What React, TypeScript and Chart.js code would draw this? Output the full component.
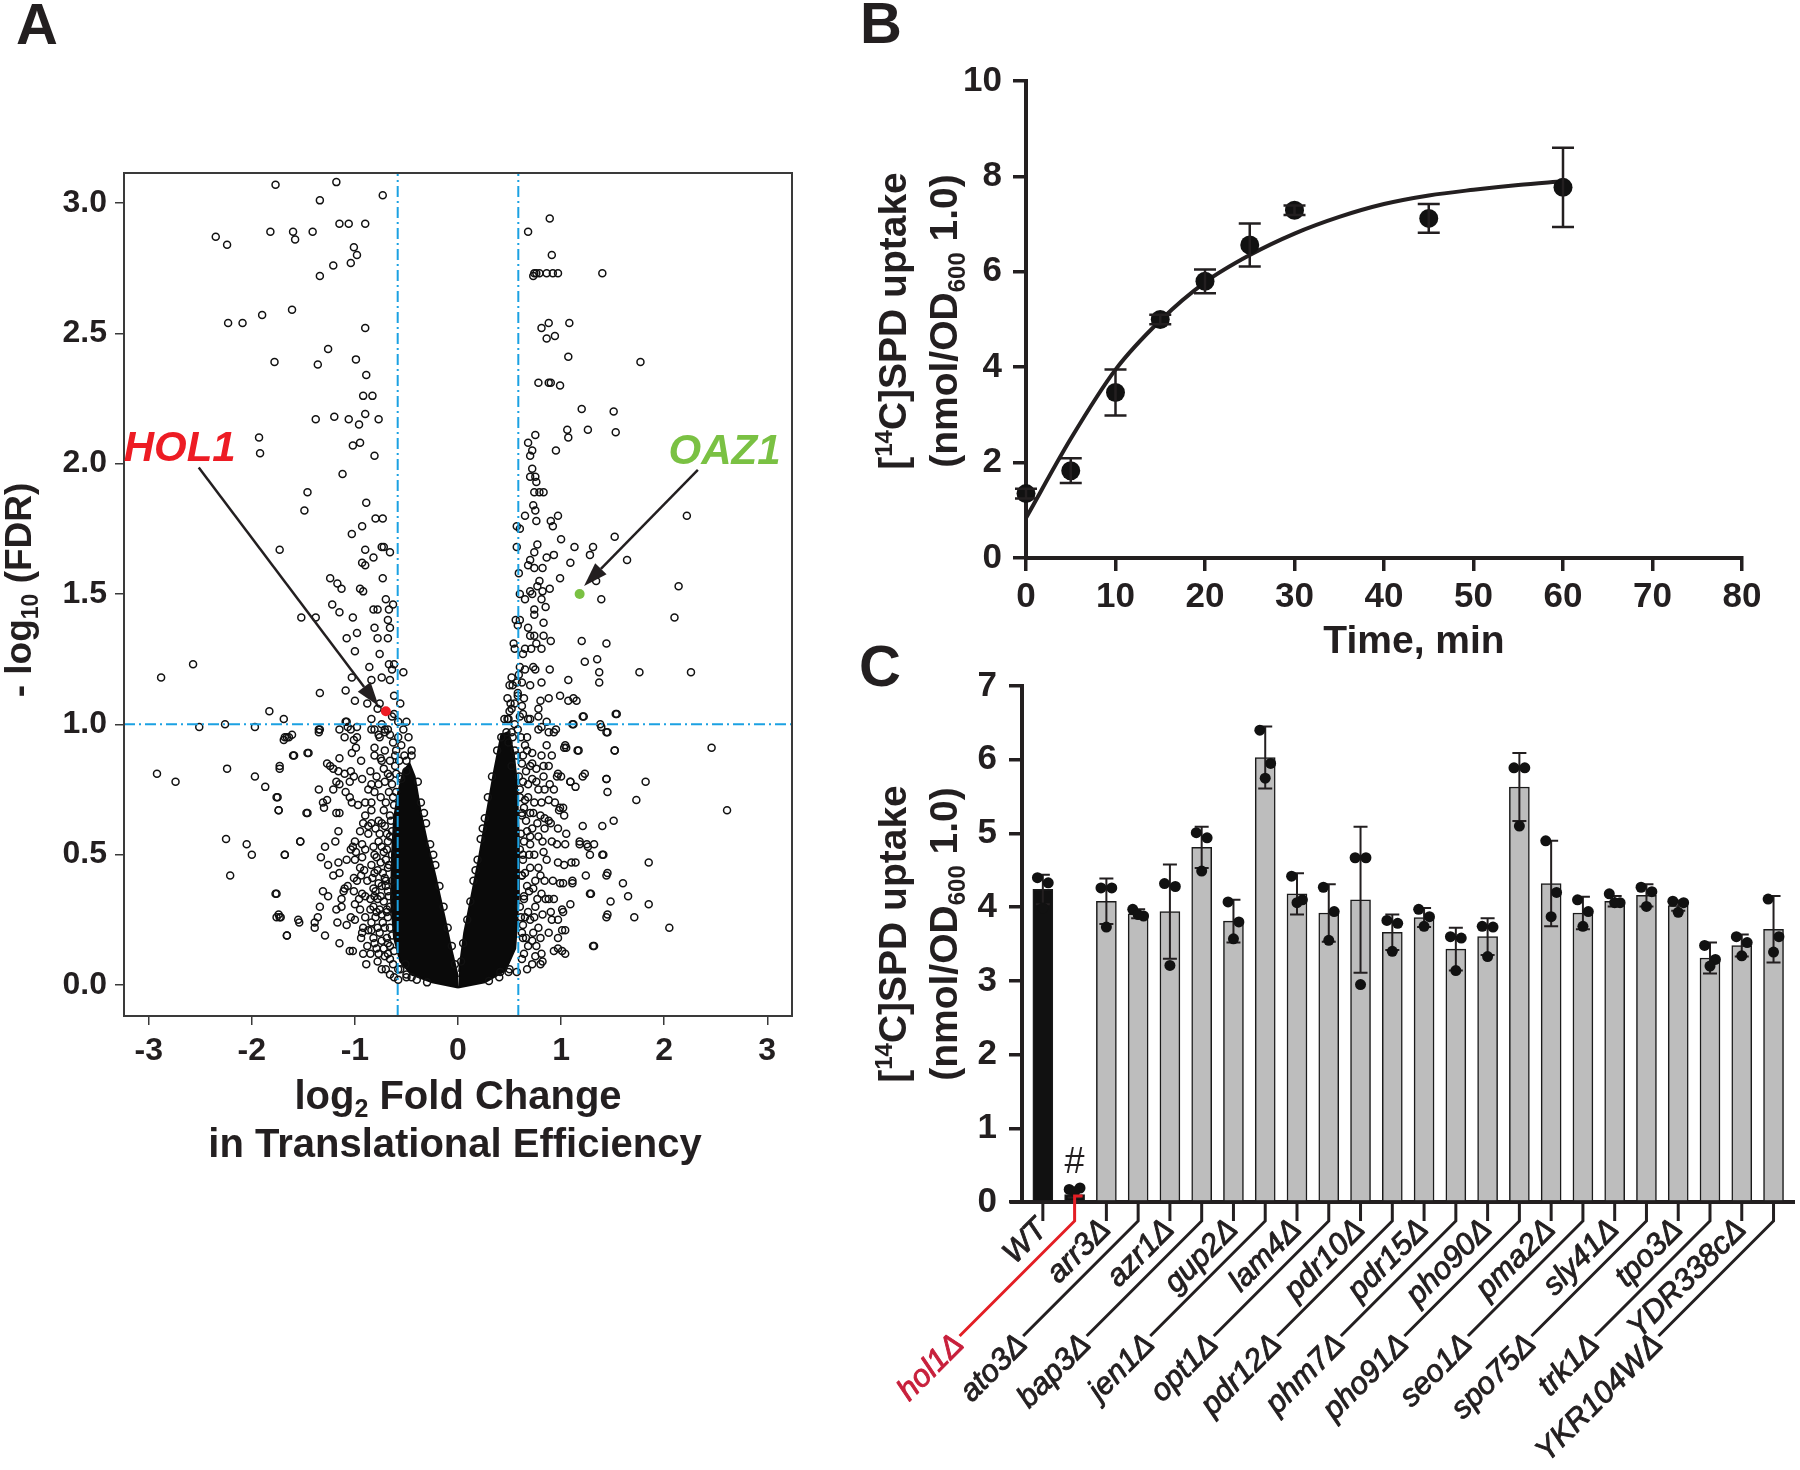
import React, { useEffect, useRef } from 'react';
import { Chart, registerables } from 'chart.js';

Chart.register(...registerables);

const FONT = "'Liberation Sans', Arial, Helvetica, sans-serif";
const INK = '#231f20';

// ---------------- Panel A : volcano plot ----------------
const volcanoXTicks = [-3, -2, -1, 0, 1, 2, 3];
const volcanoYTicks = [0, 0.5, 1, 1.5, 2, 2.5, 3];
const volcanoXRange = [-3.24, 3.24];
const volcanoYRange = [-0.119, 3.115];
const foldThreshold = [-0.585, 0.585];
const fdrThreshold = 1.0;
const hol1Point = [-0.70, 1.05];
const oaz1Point = [1.18, 1.50];
const hol1Label = [-2.70, 2.012];
const oaz1Label = [2.585, 1.998];
const hol1Arrow = [[-2.515, 1.985], [-0.77, 1.07]];
const oaz1Arrow = [[2.327, 1.976], [1.223, 1.531]];

const volcanoPoints: number[][] = [
  [-1.77,3.07],[-1.18,3.08],[-0.73,3.03],[-1.34,3.01],[-2.35,2.87],[-2.24,2.84],[-1.82,2.89],[-1.60,2.89],[-1.58,2.86],[-1.41,2.89],
  [-1.15,2.92],[-1.06,2.92],[-0.90,2.92],[-1.01,2.83],[-0.98,2.80],[-1.04,2.77],[-1.21,2.76],[-1.34,2.72],[-2.23,2.54],[-2.09,2.54],
  [-1.90,2.57],[-1.61,2.59],[-0.90,2.52],[-1.26,2.44],[-1.36,2.38],[-1.78,2.39],[-0.99,2.40],[-0.89,2.34],[-0.92,2.26],[-0.83,2.26],
  [-0.90,2.19],[-1.38,2.17],[-1.20,2.18],[-1.06,2.17],[-0.96,2.15],[-0.77,2.17],[-1.93,2.10],[-1.92,2.04],[-1.02,2.07],[-0.95,2.08],
  [-0.81,2.03],[-1.12,1.96],[-1.46,1.89],[-1.49,1.82],[-0.89,1.85],[-0.80,1.79],[-0.73,1.79],[-0.93,1.76],[-1.03,1.73],[-1.73,1.67],
  [-0.90,1.67],[-0.74,1.68],[-0.72,1.68],[-0.66,1.66],[-0.82,1.64],[-0.93,1.62],[-0.90,1.61],[-1.24,1.56],[-1.17,1.54],[-1.13,1.52],
  [-0.95,1.52],[-0.92,1.51],[-0.73,1.56],[-0.70,1.48],[-1.22,1.46],[-1.15,1.43],[-0.82,1.44],[-0.78,1.44],[-0.67,1.44],[-0.63,1.46],
  [-1.52,1.41],[-1.38,1.41],[-1.02,1.41],[-0.98,1.35],[-0.81,1.37],[-0.68,1.40],[-0.66,1.37],[-1.08,1.33],[-0.78,1.33],[-0.68,1.33],
  [-1.00,1.28],[-0.76,1.27],[-0.67,1.23],[-0.62,1.23],[-0.64,1.21],[-0.53,1.20],[-0.86,1.22],[-0.74,1.18],[-0.84,1.17],[-1.03,1.18],
  [-0.66,1.17],[-2.57,1.23],[-2.88,1.18],[-1.34,1.12],[-1.09,1.13],[-1.00,1.09],[-0.88,1.08],[-0.76,1.08],[-0.62,1.11],[-0.56,1.08],
  [-0.78,1.06],[-0.64,1.03],[-0.62,1.04],[-0.58,1.01],[-0.50,1.01],[-1.83,1.05],[-1.69,1.02],[-2.26,1.00],[-2.51,0.99],[-1.97,0.99],
  [-1.35,0.98],[-1.35,0.97],[-1.08,1.01],[-1.07,0.99],[-0.98,0.99],[-0.84,0.98],[-0.77,0.96],[-0.71,0.98],[-0.66,0.96],[-1.68,0.95],
  [-1.64,0.95],[-1.61,0.96],[-1.46,0.89],[-1.60,0.88],[-2.24,0.83],[-2.92,0.81],[-2.74,0.78],[-1.73,0.83],[-1.97,0.80],[-1.87,0.76],
  [-1.76,0.72],[-1.74,0.67],[-2.25,0.56],[-2.05,0.54],[-2.00,0.50],[-2.21,0.42],[-1.68,0.50],[-1.53,0.55],[-1.77,0.35],[-1.76,0.26],
  [-1.73,0.26],[-1.66,0.19],[-1.54,0.24],[-1.47,0.66],
  [-1.09,1.01],[-0.84,1.02],[-1.15,0.98],[-1.04,0.98],[-0.81,0.98],[-0.74,1.00],[-0.68,0.98],[-1.34,0.98],[-1.69,0.94],[-1.66,0.95],
  [-1.10,0.95],[-0.98,0.95],[-1.01,0.94],[-0.76,0.95],[-0.71,0.97],[-0.63,0.93],[-1.45,0.89],[-1.59,0.88],[-1.73,0.84],[-1.15,0.87],
  [-1.03,0.89],[-0.99,0.91],[-0.94,0.86],[-0.75,0.87],[-0.74,0.86],[-1.27,0.85],[-1.24,0.84],[-1.21,0.83],[-1.16,0.82],[-1.10,0.81],
  [-1.04,0.82],[-1.01,0.80],[-1.18,0.78],[-1.15,0.77],[-1.05,0.78],[-0.93,0.79],[-0.79,0.80],[-0.68,0.81],[-0.77,0.77],[-0.71,0.78],
  [-0.64,0.77],[-1.35,0.75],[-1.21,0.75],[-1.09,0.74],[-1.05,0.72],[-0.87,0.75],[-0.81,0.74],[-0.63,0.72],[-1.75,0.72],[-1.27,0.71],
  [-1.31,0.70],[-1.30,0.68],[-1.03,0.70],[-0.97,0.69],[-0.90,0.70],[-0.84,0.70],[-1.74,0.67],[-1.46,0.66],[-1.18,0.66],[-1.15,0.66],
  [-0.90,0.65],[-0.84,0.67],[-0.77,0.63],[-0.92,0.62],[-0.95,0.59],[-0.87,0.58],[-1.16,0.59],[-1.53,0.55],[-1.19,0.55],[-1.00,0.55],
  [-1.02,0.53],[-1.04,0.52],[-0.93,0.54],[-1.29,0.53],[-1.68,0.50],[-1.33,0.49],[-1.16,0.47],[-1.08,0.48],[-1.00,0.48],[-0.93,0.49],
  [-0.99,0.51],[-0.81,0.50],[-1.26,0.46],[-1.21,0.42],[-1.15,0.43],[-1.01,0.41],[-0.94,0.42],[-0.91,0.44],[-0.81,0.43],[-1.10,0.37],
  [-1.07,0.38],[-1.31,0.36],[-1.76,0.35],[-1.26,0.34],[-1.11,0.36],[-1.01,0.36],[-0.93,0.35],[-0.90,0.34],[-0.82,0.37],[-0.81,0.34],
  [-1.13,0.33],[-1.34,0.30],[-1.18,0.29],[-1.13,0.30],[-1.00,0.31],[-0.95,0.29],[-0.85,0.29],[-0.79,0.28],[-1.74,0.27],[-1.72,0.26],
  [-1.55,0.25],[-1.36,0.26],[-1.39,0.24],[-1.39,0.22],[-1.17,0.24],[-1.08,0.23],[-1.04,0.26],[-1.00,0.25],[-0.92,0.22],[-0.84,0.24],
  [-0.93,0.20],[-0.87,0.21],[-1.66,0.19],[-1.29,0.19],[-1.15,0.16],[-1.05,0.13],[-1.02,0.13],[-0.92,0.12],[-0.81,0.16],[-0.77,0.12],
  [-0.71,0.11],[-0.78,0.09],[-0.74,0.06],[-0.68,0.12],[-0.63,0.08],[-0.56,0.06],[-0.50,0.04],[-0.45,0.03],[-0.51,0.08],
  [-0.72,0.67],[-0.66,0.65],[-0.71,0.61],[-0.64,0.59],[-0.76,0.58],[-0.68,0.55],[-0.72,0.51],[-0.64,0.50],[-0.75,0.47],[-0.68,0.45],
  [-0.71,0.41],[-0.64,0.40],[-0.74,0.38],[-0.68,0.36],[-0.72,0.32],[-0.66,0.30],[-0.74,0.27],[-0.68,0.26],[-0.71,0.22],[-0.64,0.19],
  [-0.74,0.17],[-0.66,0.15],[-0.81,0.91],[-0.71,0.90],[-0.61,0.88],[-0.61,0.84],[-0.81,0.88],[-0.66,0.86],[-0.85,0.82],[-0.60,0.81],
  [-0.84,0.77],[-0.58,0.95],[-0.55,0.92],[-0.60,0.90],[-0.52,0.88],[-0.57,0.86],[-0.50,0.82],[-0.55,0.79],[-0.48,0.95],[-0.45,0.90],
  [-0.53,0.98],
  [-0.84,0.62],[-0.80,0.60],[-0.77,0.55],[-0.82,0.53],[-0.79,0.49],[-0.84,0.46],[-0.78,0.44],[-0.83,0.41],[-0.77,0.39],[-0.80,0.36],
  [-0.85,0.33],[-0.78,0.33],[-0.82,0.30],[-0.76,0.29],[-0.80,0.26],[-0.84,0.21],[-0.78,0.22],[-0.82,0.18],[-0.76,0.20],[-0.79,0.14],
  [-0.85,0.12],[-0.72,0.14],[-0.69,0.18],[-0.73,0.24],[-0.69,0.29],[-0.75,0.34],[-0.70,0.38],[-0.73,0.43],[-0.70,0.48],[-0.74,0.53],
  [-0.69,0.58],[-0.74,0.62],[-0.70,0.70],[-0.75,0.72],[-0.67,0.74],[-0.72,0.83],[-0.66,0.80],[-0.70,0.06],[-0.66,0.04],[-0.62,0.03],
  [-0.58,0.02],[-0.88,0.15],[-0.90,0.26],[-0.88,0.40],[-0.90,0.52],[-0.87,0.61],[-0.95,0.45],[-0.96,0.33],[-0.94,0.18],[-0.98,0.40],
  [-0.89,0.08],
  [0.68,2.89],[0.89,2.94],[0.91,2.80],[0.74,2.73],[0.76,2.73],[0.79,2.73],[0.86,2.73],[0.92,2.73],[0.97,2.73],[0.73,2.72],
  [1.40,2.73],[0.88,2.54],[0.81,2.52],[1.08,2.54],[0.86,2.48],[0.94,2.49],[1.07,2.41],[1.77,2.39],[0.78,2.31],[0.88,2.31],
  [0.90,2.31],[0.99,2.30],[1.20,2.21],[1.51,2.20],[1.06,2.13],[1.26,2.13],[1.53,2.12],[1.07,2.10],[0.75,2.11],[0.68,2.08],
  [0.95,2.05],[0.72,2.05],[0.70,2.03],[0.72,1.98],[0.70,1.95],[0.75,1.95],[0.76,1.93],[0.74,1.89],[0.79,1.89],[0.83,1.89],
  [0.73,1.84],[0.75,1.82],[0.65,1.80],[0.97,1.80],[0.90,1.78],[0.76,1.78],[0.57,1.76],[0.60,1.75],[2.22,1.80],[0.92,1.76],
  [1.00,1.71],[0.57,1.68],[0.77,1.69],[1.13,1.68],[1.31,1.68],[1.52,1.72],[0.74,1.66],[0.86,1.64],[0.93,1.65],[1.28,1.65],
  [1.64,1.63],[0.70,1.63],[0.68,1.61],[1.09,1.62],[0.74,1.60],[0.82,1.60],[0.59,1.58],[0.79,1.55],[0.99,1.56],[1.34,1.55],
  [0.77,1.53],[0.70,1.51],[0.60,1.50],[0.72,1.50],[0.82,1.51],[0.89,1.52],[2.14,1.53],[0.81,1.48],[0.65,1.48],[1.39,1.48],
  [0.74,1.44],[0.85,1.45],[0.74,1.42],[2.10,1.41],[0.56,1.40],[0.60,1.40],[0.83,1.39],[0.68,1.37],[0.70,1.34],[0.74,1.34],
  [0.83,1.34],[0.90,1.32],[1.20,1.32],[1.44,1.31],[0.76,1.31],[0.54,1.31],[0.71,1.29],[0.81,1.29],[0.63,1.27],[1.23,1.24],
  [1.35,1.25],[1.07,1.17],[1.37,1.20],[1.37,1.16],[1.76,1.20],[2.26,1.20],[0.89,1.21],[0.75,1.21],[0.65,1.21],[0.59,1.19],
  [0.52,1.18],[0.81,1.16],[0.70,1.15],[0.99,1.11],[1.12,1.10],[1.15,1.09],[1.07,1.09],[1.21,1.03],[1.11,1.00],[1.38,1.00],
  [1.53,1.04],[1.44,0.97],[2.46,0.91],[1.52,0.90],[1.03,0.91],[1.16,0.90],[1.21,0.80],[1.00,0.80],[1.44,0.79],[1.82,0.78],
  [1.45,0.74],[1.09,0.78],[1.73,0.71],[2.61,0.67],[0.99,0.68],[1.03,0.65],[1.21,0.61],[1.40,0.61],[1.51,0.63],[1.18,0.54],
  [1.25,0.54],[1.32,0.54],[1.40,0.50],[1.10,0.47],[1.85,0.47],[1.24,0.42],[1.44,0.42],[1.60,0.39],[0.99,0.39],[1.11,0.39],
  [1.29,0.35],[1.65,0.34],[1.48,0.32],[1.85,0.31],[1.09,0.31],[1.44,0.26],[1.71,0.26],[2.05,0.22],[1.31,0.15],[1.01,0.21],
  [0.97,0.14],
  [1.22,1.03],[1.54,1.04],[1.12,1.00],[1.39,0.99],[1.45,0.97],[0.78,1.06],[0.78,1.03],[0.86,1.01],[0.81,0.99],[0.93,0.97],
  [0.68,1.02],[1.04,0.92],[1.05,0.91],[1.17,0.90],[1.52,0.90],[0.91,0.88],[0.81,0.88],[0.72,0.89],[0.67,0.90],[1.23,0.81],
  [1.44,0.79],[1.09,0.78],[1.14,0.76],[0.97,0.81],[0.96,0.80],[0.89,0.77],[0.84,0.75],[0.93,0.75],[0.76,0.83],[0.83,0.84],
  [0.72,0.79],[0.78,0.75],[0.88,0.71],[1.02,0.68],[0.98,0.67],[0.81,0.70],[0.73,0.66],[0.84,0.64],[0.88,0.63],[0.97,0.60],
  [1.05,0.58],[0.91,0.55],[0.96,0.54],[1.04,0.54],[1.18,0.55],[1.26,0.53],[1.28,0.50],[1.41,0.50],[0.78,0.57],[0.70,0.54],
  [0.83,0.51],[0.97,0.47],[1.03,0.46],[1.14,0.47],[1.45,0.43],[1.11,0.40],[1.02,0.39],[0.84,0.40],[1.28,0.35],[0.88,0.33],
  [0.93,0.33],[1.01,0.29],[1.02,0.28],[0.81,0.35],[0.75,0.30],[1.45,0.27],[0.91,0.25],[0.97,0.25],[1.04,0.21],[0.88,0.20],
  [0.78,0.22],[0.72,0.17],[0.97,0.18],[0.93,0.13],[1.01,0.13],[1.04,0.12],[1.32,0.15],[0.81,0.12],[0.75,0.11],[0.80,0.08],
  [0.82,0.09],[0.67,0.06],[0.57,0.05],[0.49,0.05],[0.41,0.05],[0.68,0.15],[0.65,0.26],[0.67,0.38],[0.63,0.48],[0.67,0.59],
  [0.65,0.71],[0.68,0.77],[0.70,0.84],[0.67,0.95],[0.62,1.07],[0.52,1.06],[0.49,1.02],[0.47,0.97],[0.49,0.93],[0.55,0.90],
  [0.52,0.84],[0.55,1.29],[0.60,1.22],[0.53,1.15],[0.58,1.11],[0.51,1.08],[0.63,1.04],[0.55,1.00],[0.48,1.02],[0.58,1.38],
  [0.65,1.29],[0.73,1.22],[0.80,1.09],[0.88,1.10],[0.70,1.02],[0.78,0.98],[0.88,0.97],[0.95,0.98],[0.45,1.02],[0.50,1.05],
  [0.55,1.08],[0.42,0.95],[0.52,0.97],[0.48,1.10],[0.58,1.12],[0.50,1.15],[0.62,0.20],[0.60,0.30],[0.62,0.42],[0.60,0.52],
  [0.62,0.65],[0.60,0.75],[0.62,0.85],[0.70,0.25],[0.70,0.45],[0.72,0.60],[0.75,0.40],[0.73,0.20],
  [0.64,0.12],[0.66,0.18],[0.63,0.23],[0.68,0.28],[0.64,0.33],[0.69,0.36],[0.65,0.43],[0.69,0.50],[0.64,0.55],[0.70,0.57],
  [0.66,0.63],[0.70,0.66],[0.64,0.68],[0.68,0.72],[0.63,0.78],[0.66,0.82],[0.63,0.88],[0.65,0.92],[0.61,0.95],[0.72,0.08],
  [0.76,0.15],[0.74,0.26],[0.77,0.33],[0.73,0.37],[0.78,0.45],[0.74,0.50],[0.77,0.62],[0.74,0.70],[0.76,0.78],[0.72,0.85],
  [0.80,0.18],[0.82,0.27],[0.80,0.42],[0.82,0.55],[0.85,0.33],[0.86,0.48],[0.84,0.60],[0.80,0.65],[0.83,0.80],[0.86,0.92],
  [0.90,0.28],[0.92,0.40],[0.90,0.62],[0.94,0.70],[0.88,0.84],[0.58,0.98],[0.60,1.03],[0.64,1.10],[0.57,1.16],[0.62,1.16],
  // ragged rim of the saturated core
  [-0.66,0.10],[-0.68,0.16],[-0.66,0.22],[-0.69,0.28],[-0.67,0.34],[-0.70,0.40],[-0.67,0.46],[-0.69,0.52],[-0.66,0.57],[-0.65,0.63],
  [-0.62,0.69],[-0.60,0.74],[-0.56,0.80],[-0.50,0.86],[-0.45,0.88],[-0.58,0.06],[-0.50,0.03],[-0.40,0.02],[-0.30,0.01],[-0.62,0.13],
  [-0.39,0.78],[-0.36,0.70],[-0.31,0.62],[-0.27,0.54],[-0.22,0.46],[-0.18,0.38],[-0.14,0.30],[-0.10,0.22],[-0.06,0.15],[-0.03,0.08],
  [-0.33,0.66],[-0.24,0.50],[0.62,0.10],[0.63,0.18],[0.61,0.26],[0.64,0.34],[0.62,0.42],[0.63,0.50],[0.61,0.58],[0.62,0.66],
  [0.60,0.72],[0.59,0.80],[0.57,0.88],[0.53,0.95],[0.50,0.06],[0.40,0.03],[0.30,0.015],[0.38,0.90],[0.33,0.80],[0.29,0.72],
  [0.26,0.64],[0.22,0.56],[0.19,0.48],[0.15,0.40],[0.12,0.32],[0.09,0.25],[0.05,0.16],[0.03,0.09],[0.24,0.60],[0.17,0.44]
];

// outline of the saturated (fully overlapping) region near the origin
const denseCoreLeft: number[][] = [
  [0,-0.01],[-0.25,0.01],[-0.45,0.04],[-0.56,0.09],[-0.62,0.18],[-0.65,0.33],[-0.64,0.5],[-0.62,0.64],[-0.58,0.74],
  [-0.53,0.82],[-0.47,0.85],[-0.42,0.80],[-0.36,0.66],[-0.30,0.55],[-0.22,0.42],[-0.13,0.26],[-0.06,0.13],[0,0.03]
];
const denseCoreRight: number[][] = [
  [0,-0.01],[0.26,0.01],[0.46,0.055],[0.555,0.14],[0.59,0.34],[0.59,0.56],[0.57,0.78],[0.54,0.89],[0.49,0.97],
  [0.42,0.96],[0.35,0.82],[0.27,0.64],[0.20,0.48],[0.13,0.34],[0.06,0.20],[0.01,0.05]
];

// ---------------- Panel B : uptake time course ----------------
const timeMin = [0, 5, 10, 15, 20, 25, 30, 45, 60];
const uptakeMean = [1.35, 1.83, 3.47, 5.0, 5.80, 6.56, 7.29, 7.12, 7.77];
const uptakeSd = [0.1, 0.26, 0.48, 0.1, 0.25, 0.45, 0.1, 0.30, 0.83];
const fitTime = [0, 5, 10, 15, 20, 25, 30, 35, 40, 45, 50, 55, 60];
const fitUptake = [0.84, 2.5, 3.95, 4.98, 5.78, 6.35, 6.8, 7.15, 7.42, 7.6, 7.72, 7.82, 7.9];
const timeTicks = [0, 10, 20, 30, 40, 50, 60, 70, 80];
const uptakeTicks = [0, 2, 4, 6, 8, 10];

// ---------------- Panel C : deletion strains ----------------
const strains = ['WT', 'hol1Δ', 'arr3Δ', 'ato3Δ', 'azr1Δ', 'bap3Δ', 'gup2Δ', 'jen1Δ', 'lam4Δ', 'opt1Δ', 'pdr10Δ', 'pdr12Δ',
  'pdr15Δ', 'phm7Δ', 'pho90Δ', 'pho91Δ', 'pma2Δ', 'seo1Δ', 'sly41Δ', 'spo75Δ', 'tpo3Δ', 'trk1Δ', 'YDR338cΔ', 'YKR104WΔ'];
const strainMean = [4.24, 0.10, 4.08, 3.91, 3.94, 4.81, 3.81, 6.03, 4.18, 3.92, 4.10, 3.66, 3.86, 3.43, 3.60, 5.63, 4.32, 3.92,
  4.08, 4.16, 4.02, 3.31, 3.48, 3.70];
const strainSd = [0.20, 0.04, 0.31, 0.06, 0.64, 0.28, 0.29, 0.42, 0.28, 0.39, 0.99, 0.24, 0.13, 0.29, 0.25, 0.46, 0.58, 0.22,
  0.07, 0.15, 0.07, 0.21, 0.15, 0.45];
const strainReps = [
  [4.40, 4.33, 3.99], [0.17, 0.19, 0.14], [4.26, 4.26, 3.73], [3.97, 3.88, 3.90], [4.32, 4.28, 3.21], [5.01, 4.94, 4.49],
  [4.07, 3.80, 3.57], [6.40, 5.95, 5.75], [4.42, 4.10, 4.06], [4.27, 3.94, 3.55], [4.67, 4.67, 2.95], [3.82, 3.78, 3.40],
  [3.97, 3.87, 3.74], [3.60, 3.58, 3.14], [3.74, 3.73, 3.33], [5.89, 5.89, 5.10], [4.90, 4.20, 3.87], [4.10, 3.94, 3.74],
  [4.18, 4.06, 4.06], [4.27, 4.21, 4.01], [4.08, 4.06, 3.93], [3.48, 3.29, 3.20], [3.60, 3.52, 3.34], [4.11, 3.60, 3.39]
];
const repJitter = [-0.17, 0.17, 0];
const strainTicks = [0, 1, 2, 3, 4, 5, 6, 7];
const strainXRange = [-0.656, 23.66];
const hashMark = { index: 1, value: 0.39, text: '#' };

// ---------------- helpers ----------------
type Seg = { t: string; sub?: boolean; sup?: boolean };

function drawRich(ctx: any, segs: Seg[], x: number, y: number, size: number, align = 'center', color = INK, weight = 'bold') {
  const small = Math.round(size * 0.62);
  const fontFor = (s: Seg) => `normal ${weight} ${s.sub || s.sup ? small : size}px ${FONT}`;
  let total = 0;
  const widths = segs.map((s) => {
    ctx.font = fontFor(s);
    const w = ctx.measureText(s.t).width;
    total += w;
    return w;
  });
  let cx = align === 'center' ? x - total / 2 : align === 'right' ? x - total : x;
  ctx.textAlign = 'left';
  ctx.textBaseline = 'alphabetic';
  ctx.fillStyle = color;
  segs.forEach((s, i) => {
    ctx.font = fontFor(s);
    const dy = s.sub ? size * 0.2 : s.sup ? -size * 0.36 : 0;
    ctx.fillText(s.t, cx, y + dy);
    cx += widths[i];
  });
}

function drawVertical(ctx: any, segs: Seg[], baselineX: number, centerY: number, size: number) {
  ctx.save();
  ctx.translate(baselineX, centerY);
  ctx.rotate(-Math.PI / 2);
  drawRich(ctx, segs, 0, 0, size, 'center');
  ctx.restore();
}

function drawArrow(ctx: any, x1: number, y1: number, x2: number, y2: number, color: string) {
  const ang = Math.atan2(y2 - y1, x2 - x1);
  const head = 24;
  const half = 8;
  const bx = x2 - head * Math.cos(ang);
  const by = y2 - head * Math.sin(ang);
  ctx.strokeStyle = color;
  ctx.lineWidth = 2.5;
  ctx.beginPath();
  ctx.moveTo(x1, y1);
  ctx.lineTo(bx, by);
  ctx.stroke();
  ctx.fillStyle = color;
  ctx.beginPath();
  ctx.moveTo(x2, y2);
  ctx.lineTo(bx + half * Math.sin(ang), by - half * Math.cos(ang));
  ctx.lineTo(bx - half * Math.sin(ang), by + half * Math.cos(ang));
  ctx.closePath();
  ctx.fill();
}

const yTitleLine1: Seg[] = [{ t: '[' }, { t: '14', sup: true }, { t: 'C]SPD uptake' }];
const yTitleLine2: Seg[] = [{ t: '(nmol/OD' }, { t: '600', sub: true }, { t: ' 1.0)' }];

function axisStyle(size: number, tickLen: number, pad: number, lw: number, bw: number) {
  return {
    grid: { display: true, drawOnChartArea: false, drawTicks: true, tickLength: tickLen, lineWidth: lw, color: INK, offset: false },
    border: { display: true, width: bw, color: INK },
    ticks: { font: { family: FONT, size, weight: 'bold' }, color: INK, padding: pad, autoSkip: false, maxRotation: 0 },
  };
}

// ---------------- configs ----------------
function volcanoConfig(): any {
  const decor = {
    id: 'volcanoDecor',
    afterDatasetsDraw(chart: any) {
      const { ctx, chartArea: a, scales } = chart;
      const x = scales.x;
      const y = scales.y;
      ctx.save();
      ctx.strokeStyle = '#3a3a3a';
      ctx.lineWidth = 2;
      ctx.strokeRect(a.left, a.top, a.right - a.left, a.bottom - a.top);
      drawArrow(ctx, x.getPixelForValue(hol1Arrow[0][0]), y.getPixelForValue(hol1Arrow[0][1]),
        x.getPixelForValue(hol1Arrow[1][0]), y.getPixelForValue(hol1Arrow[1][1]), INK);
      drawArrow(ctx, x.getPixelForValue(oaz1Arrow[0][0]), y.getPixelForValue(oaz1Arrow[0][1]),
        x.getPixelForValue(oaz1Arrow[1][0]), y.getPixelForValue(oaz1Arrow[1][1]), INK);
      ctx.textAlign = 'center';
      ctx.textBaseline = 'alphabetic';
      ctx.font = `italic bold 42px ${FONT}`;
      ctx.fillStyle = '#ed1c24';
      ctx.fillText('HOL1', x.getPixelForValue(hol1Label[0]), y.getPixelForValue(hol1Label[1]));
      ctx.fillStyle = '#7ac143';
      ctx.fillText('OAZ1', x.getPixelForValue(oaz1Label[0]), y.getPixelForValue(oaz1Label[1]));
      ctx.restore();
    },
    afterDraw(chart: any) {
      const ctx = chart.ctx;
      ctx.save();
      ctx.font = `bold 58px ${FONT}`;
      ctx.fillStyle = INK;
      ctx.textAlign = 'left';
      ctx.textBaseline = 'alphabetic';
      ctx.fillText('A', 16, 44);
      drawVertical(ctx, [{ t: '- log' }, { t: '10', sub: true }, { t: ' (FDR)' }], 31, 590, 37);
      drawRich(ctx, [{ t: 'log' }, { t: '2', sub: true }, { t: ' Fold Change' }], 458, 1109, 40);
      drawRich(ctx, [{ t: 'in Translational Efficiency' }], 455, 1157, 40);
      ctx.restore();
    },
  };
  const thr = '#1ba1e2';
  const dash = [11, 4, 2, 4];
  return {
    type: 'scatter',
    data: {
      datasets: [
        ...foldThreshold.map((v) => ({
          type: 'line', data: [{ x: v, y: volcanoYRange[0] }, { x: v, y: volcanoYRange[1] }],
          borderColor: thr, borderWidth: 2, borderDash: dash, pointRadius: 0, fill: false, order: 0,
        })),
        {
          type: 'line', data: [{ x: volcanoXRange[0], y: fdrThreshold }, { x: volcanoXRange[1], y: fdrThreshold }],
          borderColor: thr, borderWidth: 2, borderDash: dash, pointRadius: 0, fill: false, order: 0,
        },
        {
          data: [{ x: hol1Point[0], y: hol1Point[1] }], pointRadius: 5, backgroundColor: '#ed1c24', borderWidth: 0, order: 0,
        },
        {
          data: [{ x: oaz1Point[0], y: oaz1Point[1] }], pointRadius: 5, backgroundColor: '#7ac143', borderWidth: 0, order: 0,
        },
        {
          data: volcanoPoints.map(([x, y]) => ({ x, y })), pointRadius: 3.5, borderWidth: 1.5, borderColor: '#111',
          backgroundColor: 'rgba(0,0,0,0)', order: 1,
        },
        ...[denseCoreLeft, denseCoreRight].map((core) => ({
          type: 'line', data: core.map(([x, y]) => ({ x, y })), borderColor: '#0a0a0a', borderWidth: 2,
          backgroundColor: '#0a0a0a', fill: 'shape', pointRadius: 0, order: 2,
        })),
      ],
    },
    options: {
      responsive: false, animation: false, devicePixelRatio: 1,
      layout: { padding: { left: 0, top: 173, right: 48, bottom: 0 } },
      plugins: { legend: { display: false }, tooltip: { enabled: false } },
      scales: {
        x: {
          type: 'linear', min: volcanoXRange[0], max: volcanoXRange[1],
          ...axisStyle(32, 9, 7, 1.5, 0),
          border: { display: false },
          grid: { display: true, drawOnChartArea: false, drawTicks: true, tickLength: 9, lineWidth: 1.5, color: '#3a3a3a' },
          afterBuildTicks: (s: any) => { s.ticks = volcanoXTicks.map((v) => ({ value: v })); },
          afterFit: (s: any) => { s.height = 184; },
        },
        y: {
          type: 'linear', min: volcanoYRange[0], max: volcanoYRange[1],
          ...axisStyle(32, 9, 8, 1.5, 0),
          border: { display: false },
          grid: { display: true, drawOnChartArea: false, drawTicks: true, tickLength: 9, lineWidth: 1.5, color: '#3a3a3a' },
          ticks: { font: { family: FONT, size: 32, weight: 'bold' }, color: INK, padding: 8, callback: (v: number) => v.toFixed(1) },
          afterBuildTicks: (s: any) => { s.ticks = volcanoYTicks.map((v) => ({ value: v })); },
          afterFit: (s: any) => { s.width = 124; },
        },
      },
    },
    plugins: [decor],
  };
}

function uptakeConfig(): any {
  const decor = {
    id: 'uptakeDecor',
    afterDatasetsDraw(chart: any) {
      const { ctx, scales } = chart;
      const x = scales.x;
      const y = scales.y;
      ctx.save();
      ctx.strokeStyle = INK;
      ctx.lineWidth = 2.5;
      timeMin.forEach((t, i) => {
        const px = x.getPixelForValue(t);
        const top = y.getPixelForValue(uptakeMean[i] + uptakeSd[i]);
        const bot = y.getPixelForValue(uptakeMean[i] - uptakeSd[i]);
        ctx.beginPath();
        ctx.moveTo(px, top); ctx.lineTo(px, bot);
        ctx.moveTo(px - 11, top); ctx.lineTo(px + 11, top);
        ctx.moveTo(px - 11, bot); ctx.lineTo(px + 11, bot);
        ctx.stroke();
      });
      ctx.restore();
    },
    afterDraw(chart: any) {
      const ctx = chart.ctx;
      ctx.save();
      ctx.font = `bold 58px ${FONT}`;
      ctx.fillStyle = INK;
      ctx.textAlign = 'left';
      ctx.textBaseline = 'alphabetic';
      ctx.fillText('B', 10, 43);
      drawVertical(ctx, yTitleLine1, 56, 321, 39);
      drawVertical(ctx, yTitleLine2, 107, 321, 39);
      drawRich(ctx, [{ t: 'Time, min' }], 564, 653, 39);
      ctx.restore();
    },
  };
  return {
    type: 'scatter',
    data: {
      datasets: [
        {
          type: 'line', data: fitTime.map((t, i) => ({ x: t, y: fitUptake[i] })), borderColor: INK, borderWidth: 4,
          pointRadius: 0, cubicInterpolationMode: 'monotone', fill: false, order: 1,
        },
        {
          data: timeMin.map((t, i) => ({ x: t, y: uptakeMean[i] })), pointRadius: 9.5, backgroundColor: '#111',
          borderWidth: 0, clip: false, order: 0,
        },
      ],
    },
    options: {
      responsive: false, animation: false, devicePixelRatio: 1,
      layout: { padding: { left: 0, top: 81, right: 58, bottom: 0 } },
      plugins: { legend: { display: false }, tooltip: { enabled: false } },
      scales: {
        x: {
          type: 'linear', min: 0, max: 80, ...axisStyle(35, 13, 5, 3.5, 4),
          afterBuildTicks: (s: any) => { s.ticks = timeTicks.map((v) => ({ value: v })); },
          afterFit: (s: any) => { s.height = 102; },
        },
        y: {
          type: 'linear', min: 0, max: 10, ...axisStyle(35, 13, 11, 3.5, 4),
          afterBuildTicks: (s: any) => { s.ticks = uptakeTicks.map((v) => ({ value: v })); },
          afterFit: (s: any) => { s.width = 176; },
        },
      },
    },
    plugins: [decor],
  };
}

function strainConfig(): any {
  const decor = {
    id: 'strainDecor',
    afterDatasetDraw(chart: any, args: any) {
      if (args.index !== 0) return;
      const { ctx, scales } = chart;
      const x = scales.x;
      const y = scales.y;
      ctx.save();
      ctx.strokeStyle = INK;
      ctx.lineWidth = 2;
      strains.forEach((_, i) => {
        const px = x.getPixelForValue(i);
        const top = y.getPixelForValue(strainMean[i] + strainSd[i]);
        const bot = y.getPixelForValue(Math.max(0, strainMean[i] - strainSd[i]));
        ctx.beginPath();
        ctx.moveTo(px, top); ctx.lineTo(px, bot);
        ctx.moveTo(px - 7, top); ctx.lineTo(px + 7, top);
        ctx.moveTo(px - 7, bot); ctx.lineTo(px + 7, bot);
        ctx.stroke();
      });
      ctx.restore();
    },
    afterDraw(chart: any) {
      const { ctx, chartArea: a, scales } = chart;
      const x = scales.x;
      const y = scales.y;
      const y0 = a.bottom;
      const tb = y0 + 19;
      const L = 115;
      const size = 31;
      ctx.save();
      ctx.strokeStyle = INK;
      ctx.lineWidth = 4;
      ctx.beginPath();
      ctx.moveTo(a.left - 12, y0);
      ctx.lineTo(a.left, y0);
      ctx.stroke();
      ctx.lineCap = 'butt';
      strains.forEach((name, i) => {
        const px = x.getPixelForValue(i);
        const isHol = i === 1;
        const col = isHol ? '#e31e24' : INK;
        ctx.strokeStyle = col;
        ctx.lineWidth = 3;
        ctx.beginPath();
        if (isHol) {
          ctx.moveTo(px + 8, y0 - 6);
          ctx.lineTo(px, y0 - 6);
        } else {
          ctx.moveTo(px, y0);
        }
        ctx.lineTo(px, tb);
        let ax = px;
        let ay = tb;
        if (i % 2 === 1) {
          ctx.lineTo(px - L, tb + L);
          ax = px - L;
          ay = tb + L;
        }
        ctx.stroke();
        ctx.save();
        ctx.translate(ax - 2, ay + 2);
        ctx.rotate(-Math.PI / 4);
        ctx.font = `italic normal ${size}px ${FONT}`;
        const tc = isHol ? '#c8203c' : INK;
        ctx.fillStyle = tc;
        ctx.strokeStyle = tc;
        ctx.lineWidth = 0.9;
        ctx.lineJoin = 'round';
        ctx.textAlign = 'right';
        ctx.textBaseline = 'alphabetic';
        ctx.fillText(name, 0, size * 0.36);
        ctx.strokeText(name, 0, size * 0.36);
        ctx.restore();
      });
      ctx.font = `normal 36px ${FONT}`;
      ctx.fillStyle = INK;
      ctx.textAlign = 'center';
      ctx.textBaseline = 'alphabetic';
      ctx.fillText(hashMark.text, x.getPixelForValue(hashMark.index), y.getPixelForValue(hashMark.value));
      ctx.font = `bold 58px ${FONT}`;
      ctx.textAlign = 'left';
      ctx.fillText('C', 9, 56);
      drawVertical(ctx, yTitleLine1, 56, 304, 39);
      drawVertical(ctx, yTitleLine2, 107, 304, 39);
      ctx.restore();
    },
  };
  return {
    type: 'bar',
    data: {
      datasets: [
        {
          type: 'bar', data: strainMean.map((v, i) => ({ x: i, y: v })),
          backgroundColor: strains.map((_, i) => (i < 2 ? '#111' : '#bdbdbd')),
          borderColor: '#1a1a1a', borderWidth: 1.5, barThickness: 20, order: 2,
        },
        {
          type: 'scatter',
          data: strainReps.flatMap((reps, i) => reps.map((v, j) => ({ x: i + repJitter[j], y: v }))),
          pointRadius: 5.5, backgroundColor: '#111', borderWidth: 0, clip: false, order: 1,
        },
      ],
    },
    options: {
      responsive: false, animation: false, devicePixelRatio: 1,
      layout: { padding: { left: 0, top: 56, right: 0, bottom: 0 } },
      plugins: { legend: { display: false }, tooltip: { enabled: false } },
      scales: {
        x: {
          type: 'linear', min: strainXRange[0], max: strainXRange[1], offset: false,
          grid: { display: false }, ticks: { display: false },
          border: { display: true, width: 4, color: INK },
          afterFit: (s: any) => { s.height = 268; },
        },
        y: {
          type: 'linear', min: 0, max: 7, ...axisStyle(35, 13, 12, 3.5, 4),
          afterBuildTicks: (s: any) => { s.ticks = strainTicks.map((v) => ({ value: v })); },
          afterFit: (s: any) => { s.width = 172; },
        },
      },
    },
    plugins: [decor],
  };
}

function ChartCanvas({ make, left, top, width, height }: any) {
  const ref = useRef<HTMLCanvasElement>(null);
  useEffect(() => {
    const chart = new Chart(ref.current as HTMLCanvasElement, make());
    return () => chart.destroy();
  }, []);
  return (
    <canvas ref={ref} width={width} height={height}
      style={{ position: 'absolute', left, top, width, height, display: 'block' }} />
  );
}

export default function App() {
  return (
    <div style={{ position: 'absolute', left: 0, top: 0, width: 1800, height: 1470, background: '#fff', overflow: 'hidden' }}>
      <ChartCanvas make={volcanoConfig} left={0} top={0} width={840} height={1200} />
      <ChartCanvas make={uptakeConfig} left={850} top={0} width={950} height={660} />
      <ChartCanvas make={strainConfig} left={850} top={630} width={950} height={840} />
    </div>
  );
}
